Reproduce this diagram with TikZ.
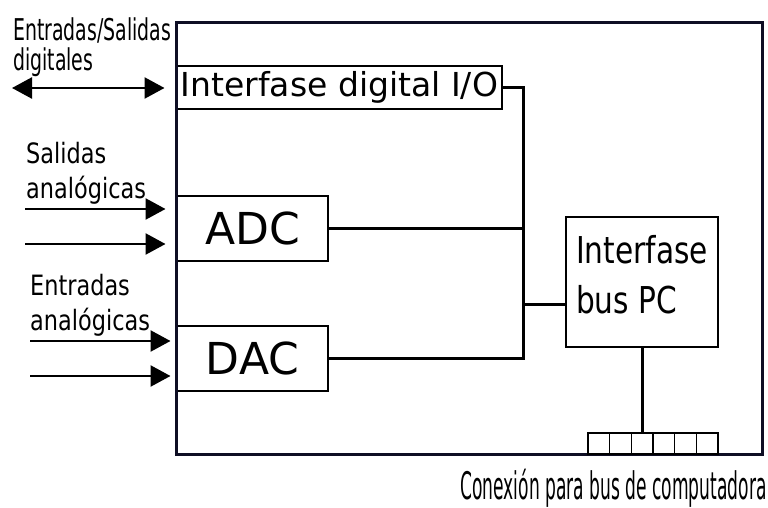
\documentclass[tikz,border=0pt]{standalone}
\usepackage{fontspec}
\setmainfont{DejaVu Sans}
\newfontfamily\narrowfont[FakeStretch=0.8]{DejaVu Sans}
\newfontfamily\slimfont[FakeStretch=0.63]{DejaVu Sans}
\newfontfamily\tightfont[FakeStretch=0.45]{DejaVu Sans}
\usetikzlibrary{arrows.meta}
\definecolor{ink}{HTML}{000000}
\definecolor{frame}{HTML}{0E0E24}

\begin{document}
\begin{tikzpicture}[x=1pt,y=-1pt,
 block/.style={draw=ink,line width=1.5pt,inner sep=0pt},
 board/.style={draw=frame,line width=3pt,inner sep=0pt},
 cell/.style={draw=ink,line width=1.2pt,minimum width=21.67pt,minimum height=21pt,inner sep=0pt},
 wire/.style={draw=ink,line width=3pt},
 sig/.style={-{Triangle[length=20pt,width=21pt]},draw=ink,line width=2.5pt,shorten >=9pt},
 tag/.style={font=\narrowfont\fontsize{28}{35}\selectfont,align=left,anchor=north west,inner sep=0pt}]
\path[use as bounding box] (0,0) rectangle (768,508);
% blocks on the card
\node[block,minimum width=325pt,minimum height=43pt,font=\fontsize{33}{40}\selectfont] (io) at (339.5,87.5) {Interfase digital I/O};
\node[block,minimum width=151pt,minimum height=65pt,font=\fontsize{44}{50}\selectfont] (adc) at (252.5,228.5) {ADC};
\node[block,minimum width=151pt,minimum height=65pt,font=\fontsize{44}{50}\selectfont] (dac) at (252.5,358.5) {DAC};
\node[block,minimum width=152pt,minimum height=130pt,align=left,text depth=16pt,font=\narrowfont\fontsize{37}{50}\selectfont] (bus) at (642,282) {Interfase\\bus PC};
\node[board,minimum width=586pt,minimum height=431pt] (board) at (469,238.5) {};
% edge connector
\foreach \i in {1,...,6}
 \node[cell] (pin\i) at ({588+21.67*(\i-0.5)},443.5) {};
% internal bus
\coordinate (jn) at (523,304);
\draw[wire] (io.east) -| (jn) |- (dac.east);
\draw[wire] (adc.east) -- (adc.east -| jn);
\draw[wire] (jn) -- (jn -| bus.west);
\draw[wire] (bus.south) -- (bus.south |- pin3.north);
% signals from outside
\coordinate (dig) at (12,88);
\coordinate (ao1) at (25,209);
\coordinate (ao2) at (25,244);
\coordinate (ai1) at (30,341);
\coordinate (ai2) at (30,376);
\draw[sig,{Triangle[length=20pt,width=21pt]}-{Triangle[length=20pt,width=21pt]},shorten >=10pt] (dig) -- (dig -| board.west);
\foreach \s in {ao1,ao2}
 \draw[sig] (\s) -- (\s -| board.west);
\foreach \s in {ai1,ai2}
 \draw[sig,shorten >=4pt] (\s) -- (\s -| board.west);
\node[tag,font=\slimfont\fontsize{30}{30}\selectfont] (diglbl) at (13,17.5) {Entradas/Salidas\\digitales};
\node[tag] (aolbl) at (26,142) {Salidas\\analógicas};
\node[tag] (ailbl) at (30,274) {Entradas\\analógicas};
\node[font=\tightfont\fontsize{38}{40}\selectfont,anchor=base west,inner sep=0pt] (buslbl) at (460,499) {Conexión para bus de computadora};
\end{tikzpicture}
\end{document}
